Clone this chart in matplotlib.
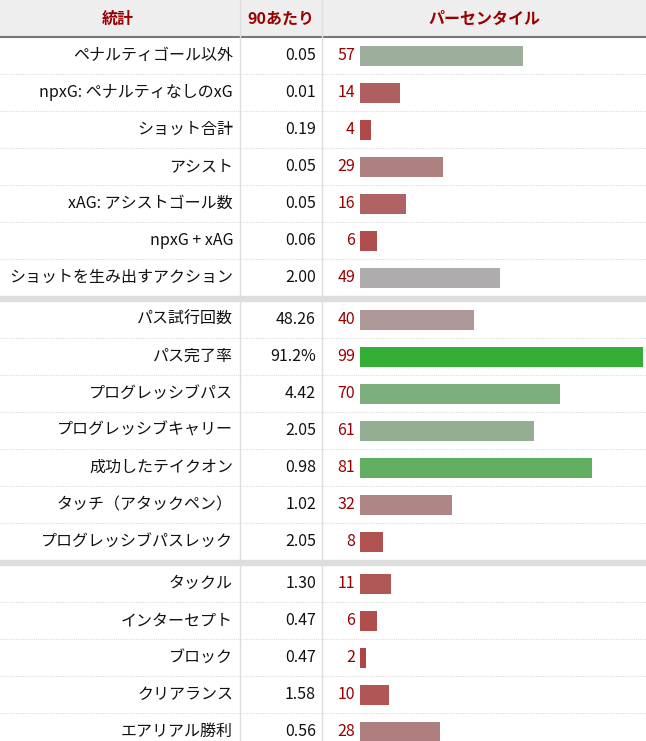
import numpy as np
import matplotlib.pyplot as plt
from matplotlib.patches import Rectangle

# ---- data ----
stats = ["ペナルティゴール以外", "npxG: ペナルティなしのxG", "ショット合計", "アシスト",
         "xAG: アシストゴール数", "npxG + xAG", "ショットを生み出すアクション",
         "パス試行回数", "パス完了率", "プログレッシブパス", "プログレッシブキャリー",
         "成功したテイクオン", "タッチ（アタックペン）", "プログレッシブパスレック",
         "タックル", "インターセプト", "ブロック", "クリアランス", "エアリアル勝利"]
per90 = ["0.05", "0.01", "0.19", "0.05", "0.05", "0.06", "2.00",
         "48.26", "91.2%", "4.42", "2.05", "0.98", "1.02", "2.05",
         "1.30", "0.47", "0.47", "1.58", "0.56"]
pct = [57, 14, 4, 29, 16, 6, 49,
       40, 99, 70, 61, 81, 32, 8,
       11, 6, 2, 10, 28]
groups = [7, 7, 5]

plt.rcParams["font.family"] = ["Noto Sans CJK JP", "DejaVu Sans"]

W, H = 646, 741
fig = plt.figure(figsize=(W / 100, H / 100), dpi=100)
ax = fig.add_axes([0, 0, 1, 1])
ax.set_xlim(0, W)
ax.set_ylim(H, 0)
ax.axis("off")

def pct_color(p):
    red = np.array([176, 64, 64]); gray = np.array([174, 174, 174]); green = np.array([51, 174, 51])
    if p <= 50:
        c = red + (gray - red) * p / 50
    else:
        c = gray + (green - gray) * (p - 50) / 50
    return c / 255

# header
ax.add_patch(Rectangle((0, 0), W, 36, color="#eeeeee", zorder=0))
ax.plot([0, W], [36.5, 36.5], color="#777777", lw=1.5)
hdr = dict(color="#990000", fontsize=11.5, fontweight="bold", va="center")
ax.text(118, 19, "統計", ha="center", **hdr)
ax.text(281, 19, "90あたり", ha="center", **hdr)
ax.text(484, 19, "パーセンタイル", ha="center", **hdr)

# row positions
row_h = 37
ys = []
y = 37
for gi, n in enumerate(groups):
    if gi > 0:
        ax.add_patch(Rectangle((0, y), W, 5, color="#dddddd", zorder=1))
        y += 5
    for i in range(n):
        ys.append(y + row_h / 2)
        y += row_h
        ax.plot([0, W], [y, y], color="#dddddd", lw=0.8, ls=(0, (1, 1)))

ax.plot([240, 240], [0, H], color="#dddddd", lw=1)
ax.plot([322, 322], [0, H], color="#dddddd", lw=1)

scale = 2.86
ax.barh(ys, [p * scale for p in pct], left=360, height=20,
        color=[pct_color(p) for p in pct], zorder=2)
for yy, s, v, p in zip(ys, stats, per90, pct):
    ax.text(233, yy, s, ha="right", va="center", fontsize=11.5, color="#111111")
    ax.text(316, yy, v, ha="right", va="center", fontsize=11.5, color="#111111")
    ax.text(355, yy, str(p), ha="right", va="center", fontsize=11.5, color="#990000")

fig.savefig("out.png", dpi=100)
